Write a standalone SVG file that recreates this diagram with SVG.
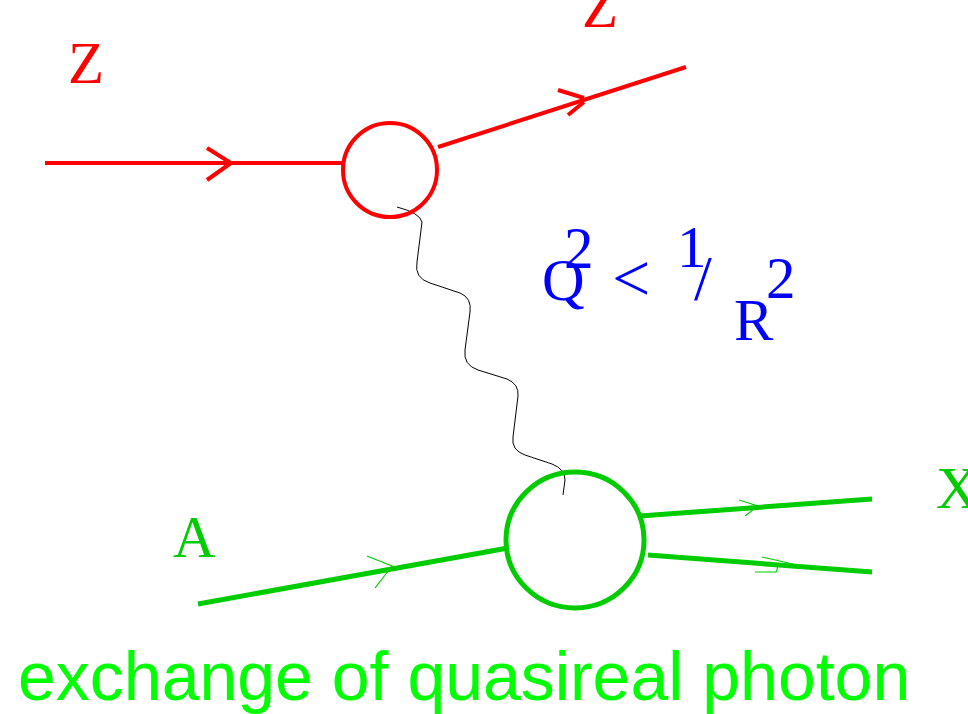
<svg xmlns="http://www.w3.org/2000/svg" width="968" height="714" viewBox="0 0 968 714">
<style>
.red{stroke:#ff0000;fill:none;stroke-width:4}
.grn{stroke:#00cc00;fill:none;stroke-width:5}
.gthin{stroke:#00cc00;fill:none;stroke-width:1.2}
.wave{stroke:#000;fill:none;stroke-width:1}
.ser{font-family:"Liberation Serif","Times New Roman",serif;font-size:59px}
.rt{fill:#ff0000}
.bt{fill:#0000ff}
.gt{fill:#00cc00}
.sans{font-family:"Liberation Sans",Arial,sans-serif;font-size:68px;fill:#00ff00}
</style>
<rect width="968" height="714" fill="#fff"/>
<g id="connectors">
  <g id="z-in">
    <line class="red" x1="45" y1="163" x2="343" y2="163"/>
    <polyline class="red" points="207,148 231,163 207,180"/>
  </g>
  <g id="z-out">
    <line class="red" x1="438" y1="147" x2="686" y2="67"/>
    <path class="red" d="M558,90 L584,98 M568,115 L584,102"/>
  </g>
  <g id="photon">
    <path class="wave" d="M397,207 Q420,213 422,222 L417,262 Q414,278 430,283 L460,293 Q472,298 470,312 L465,350 Q463,365 478,370 L507,379 Q519,384 518,396 L513,437 Q511,450 525,455 L552,464 Q565,469 565,480 L563,495"/>
  </g>
  <g id="a-in">
    <line class="grn" x1="198" y1="604" x2="508" y2="548"/>
    <polyline class="gthin" points="367,556 392,566 375,588"/>
  </g>
  <g id="x-out1">
    <line class="grn" x1="640" y1="516" x2="872" y2="499"/>
    <polyline class="gthin" points="739,500 758,506 745,516"/>
  </g>
  <g id="x-out2">
    <line class="grn" x1="648" y1="555" x2="872" y2="572"/>
    <path class="gthin" d="M762,557 L793,564 M755,572 L776,572 Q779,566 776,565"/>
  </g>
</g>
<g id="vertex-top">
  <ellipse class="red" cx="390" cy="170" rx="47" ry="47"/>
</g>
<g id="vertex-bottom">
  <ellipse class="grn" cx="575" cy="540" rx="69" ry="68"/>
</g>
<g id="labels">
  <text class="ser rt" x="68" y="83">Z</text>
  <text class="ser rt" x="582" y="27">Z</text>
  <text class="ser gt" x="173" y="557">A</text>
  <text class="ser gt" x="936" y="508">X</text>
  <g id="formula" class="ser bt">
    <text x="542" y="300">Q</text>
    <text x="564" y="268">2</text>
    <text x="612" y="301" style="font-size:68px">&lt;</text>
    <text x="677" y="267">1</text>
    <text x="694" y="300" style="font-size:64px">/</text>
    <text x="734" y="340">R</text>
    <text x="766" y="298">2</text>
  </g>
  <text class="sans" x="18" y="700">exchange of quasireal photon</text>
</g>
</svg>
